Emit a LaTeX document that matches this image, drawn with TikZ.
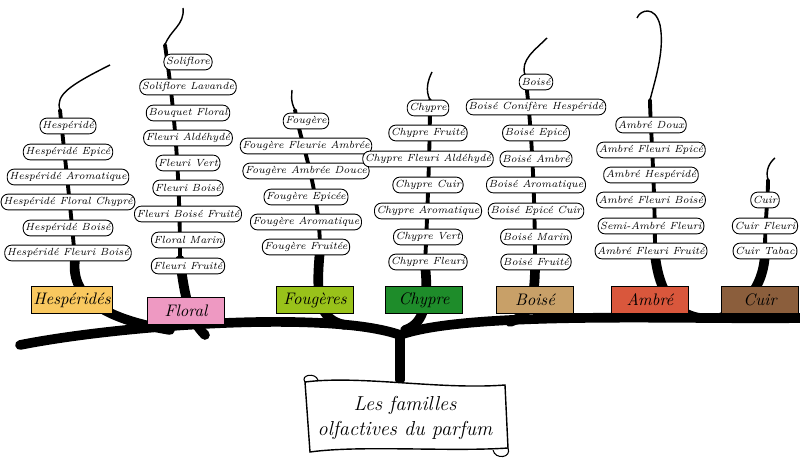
\documentclass[tikz,border=0pt]{standalone}
\begin{document}
\begin{tikzpicture}[x=0.02cm,y=-0.02cm,
  pill/.style={draw,fill=white,rounded corners=4pt,line width=0.5pt,font=\itshape\fontsize{5.9}{7}\selectfont,inner sep=1.2pt,minimum height=9pt},
  fam/.style={draw,line width=0.5pt,font=\itshape\fontsize{9.5}{10}\selectfont,minimum width=44pt,minimum height=15pt,inner sep=1pt},
  br/.style={line width=5.5pt,line cap=round},
  twig/.style={line width=2.2pt,line cap=round},
  tip/.style={line width=0.8pt}]
\useasboundingbox (0,0) rectangle (800,469);
% branches
\draw[br] (20,345) .. controls (120,325) and (330,310) .. (400,335);
\draw[br] (400,335) .. controls (470,310) and (700,320) .. (800,318);
\draw[br] (400,335) -- (400,380);
\draw[br] (75,260) .. controls (70,300) and (110,320) .. (170,330);
\draw[br] (180,260) .. controls (185,300) and (190,320) .. (205,335);
\draw[br] (320,250) .. controls (315,300) and (320,320) .. (345,325);
\draw[br] (425,265) .. controls (430,310) and (420,325) .. (405,330);
\draw[br] (535,265) .. controls (535,300) and (530,315) .. (510,322);
\draw[br] (655,255) .. controls (660,300) and (680,315) .. (700,318);
\draw[br] (765,250) .. controls (765,290) and (740,310) .. (720,318);
\draw[twig] (75,260) .. controls (70,200) and (65,160) .. (60,110);
\draw[tip] (60,110) .. controls (55,95) and (70,85) .. (110,65);
\draw[twig] (180,260) .. controls (180,150) and (170,80) .. (165,45);
\draw[tip] (165,45) .. controls (170,30) and (185,25) .. (183,8);
\draw[twig] (320,250) .. controls (320,190) and (300,140) .. (295,110);
\draw[tip] (295,110) .. controls (290,100) and (292,95) .. (292,90);
\draw[twig] (425,265) .. controls (428,200) and (430,140) .. (430,100);
\draw[tip] (430,100) .. controls (425,90) and (428,80) .. (432,72);
\draw[twig] (535,265) .. controls (535,180) and (530,110) .. (525,75);
\draw[tip] (525,75) .. controls (520,60) and (535,50) .. (547,38);
\draw[twig] (655,255) .. controls (655,180) and (650,120) .. (650,100);
\draw[tip] (650,100) .. controls (655,80) and (665,50) .. (660,25) .. controls (655,5) and (640,10) .. (637,18);
\draw[twig] (765,250) .. controls (765,220) and (768,200) .. (768,180);
\draw[tip] (768,180) .. controls (765,170) and (770,162) .. (775,158);
% pills
\foreach \t/\y [count=\i] in {Hespéridé/126,Hespéridé Epicé/152,Hespéridé Aromatique/177,Hespéridé Floral Chypré/202,Hespéridé Boisé/228,Hespéridé Fleuri Boisé/253}
  \node[pill] (h\i) at (68,\y) {\t};
\foreach \t/\y [count=\i] in {Soliflore/62,Soliflore Lavande/87,Bouquet Floral/113,Fleuri Aldéhydé/138,Fleuri Vert/163,Fleuri Boisé/188,Fleuri Boisé Fruité/214,Floral Marin/240,Fleuri Fruité/266}
  \node[pill] (f\i) at (188,\y) {\t};
\foreach \t/\y [count=\i] in {Fougère/121,Fougère Fleurie Ambrée/146,Fougère Ambrée Douce/171,Fougère Epicée/197,Fougère Aromatique/222,Fougère Fruitée/247}
  \node[pill] (g\i) at (306,\y) {\t};
\foreach \t/\y [count=\i] in {Chypre/108,Chypre Fruité/133,Chypre Fleuri Aldéhydé/159,Chypre Cuir/185,Chypre Aromatique/211,Chypre Vert/237,Chypre Fleuri/262}
  \node[pill] (c\i) at (428,\y) {\t};
\foreach \t/\y [count=\i] in {Boisé/82,Boisé Conifère Hespéridé/107,Boisé Epicé/133,Boisé Ambré/159,Boisé Aromatique/185,Boisé Epicé Cuir/211,Boisé Marin/237,Boisé Fruité/262}
  \node[pill] (b\i) at (536,\y) {\t};
\foreach \t/\y [count=\i] in {Ambré Doux/125,Ambré Fleuri Epicé/150,Ambré Hespéridé/175,Ambré Fleuri Boisé/200,Semi-Ambré Fleuri/226,Ambré Fleuri Fruité/251}
  \node[pill] (a\i) at (651,\y) {\t};
\foreach \t/\y [count=\i] in {Cuir/200,Cuir Fleuri/226,Cuir Tabac/251}
  \node[pill] (k\i) at (765,\y) {\t};
% family banners
\node[fam,fill={rgb,255:red,249;green,200;blue,95}] (Fh) at (72,300) {Hespéridés};
\node[fam,fill={rgb,255:red,238;green,153;blue,194}] (Ff) at (186,311) {Floral};
\node[fam,fill={rgb,255:red,153;green,194;blue,26}] (Fg) at (315,300) {Fougères};
\node[fam,fill={rgb,255:red,30;green,140;blue,42}] (Fc) at (424,300) {Chypre};
\node[fam,fill={rgb,255:red,200;green,160;blue,104}] (Fb) at (535,300) {Boisé};
\node[fam,fill={rgb,255:red,217;green,87;blue,60}] (Fa) at (650,300) {Ambré};
\node[fam,fill={rgb,255:red,139;green,94;blue,60}] (Fk) at (760,300) {Cuir};
% title scroll
\draw[fill=white,line width=0.8pt] (305,382) .. controls (360,375) and (440,390) .. (505,385)
  -- (508,448) .. controls (450,452) and (360,445) .. (310,452) -- cycle;
\draw[line width=0.6pt] (305,382) .. controls (300,375) and (315,372) .. (318,380);
\draw[line width=0.6pt] (508,448) .. controls (512,458) and (495,460) .. (493,450);
\node[font=\itshape\fontsize{11.5}{14}\selectfont,align=center] (T) at (405,418) {Les familles\\olfactives du parfum};
\end{tikzpicture}
\end{document}
